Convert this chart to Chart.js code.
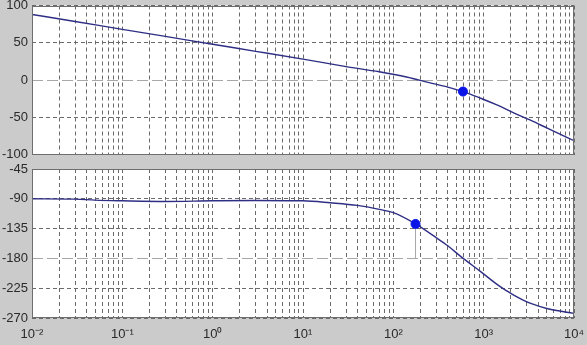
<!DOCTYPE html>
<html>
<head>
<meta charset="utf-8">
<script src="https://cdn.jsdelivr.net/npm/chart.js@4.4.0/dist/chart.umd.min.js"></script>
<style>
  html, body { margin: 0; padding: 0; background: #cbcbcb; }
  #wrap { position: relative; width: 587px; height: 345px; overflow: hidden; }
  #magChart { position: absolute; left: 0; top: 0; }
  #phaseChart { position: absolute; left: 0; top: 160px; }
</style>
</head>
<body>
<div id="wrap">
  <canvas id="magChart" width="587" height="160"></canvas>
  <canvas id="phaseChart" width="587" height="185"></canvas>
</div>
<script>
// magnitude curve (rad/s, dB)
const magFreq = [0.01, 0.03, 0.1, 0.3, 1, 3, 10, 30, 70, 140, 250, 400, 590, 926, 1400, 2150, 3300, 5125, 10000];
const magDb   = [88, 78.5, 68, 58.5, 48, 38.5, 28, 18, 11, 4, -3.5, -9.5, -15.5, -24.5, -33.5, -44, -54, -65, -81.5];

// phase curve (rad/s, deg)
const phaseFreq = [0.01, 0.03, 0.05, 0.1, 0.3, 1, 3, 10, 20, 40, 70, 100, 176, 300, 400, 556, 926, 1430, 1800, 2150, 2700, 3320, 5125, 10000];
const phaseDeg  = [-90, -90.5, -92, -93, -94, -93, -92.5, -93, -96, -100, -106, -111, -128, -149, -161, -177, -200, -220, -229, -235.5, -242.5, -248, -256, -263];

// markers
const magMarkerFreq = [590];
const magMarkerDb = [-15.5];
const phaseMarkerFreq = [176];
const phaseMarkerDeg = [-128];
const phaseMarginFloor = -180;

// axis ticks
const magTicks = [100, 50, 0, -50, -100];
const phaseTicks = [-45, -90, -135, -180, -225, -270];
const decades = [-2, -1, 0, 1, 2, 3, 4];

const sup = { '-': '\u207B', '0': '\u2070', '1': '\u00B9', '2': '\u00B2', '3': '\u00B3', '4': '\u2074' };
const tickFont = { family: "'Liberation Sans', Arial, sans-serif", size: 13 };

const framePlugin = {
  id: 'frame',
  beforeDraw(chart) {
    const { ctx, chartArea: a } = chart;
    ctx.save();
    ctx.fillStyle = '#ffffff';
    ctx.fillRect(a.left, a.top, a.right - a.left, a.bottom - a.top);
    ctx.restore();
  },
  afterDraw(chart) {
    const { ctx, chartArea: a } = chart;
    ctx.save();
    ctx.strokeStyle = '#6e6e6e';
    ctx.lineWidth = 1;
    ctx.strokeRect(Math.round(a.left) + 0.5, Math.round(a.top) + 0.5,
      Math.round(a.right - a.left) - 1, Math.round(a.bottom - a.top) - 1);
    ctx.restore();
  }
};

function pts(xs, ys) {
  return xs.map((x, i) => ({ x: x, y: ys[i] }));
}

function logTicks(scale) {
  const t = [];
  for (let d = 0; d < decades.length - 1; d++) {
    for (let k = 1; k < 10; k++) t.push({ value: k * Math.pow(10, decades[d]) });
  }
  t.push({ value: Math.pow(10, decades[decades.length - 1]) });
  scale.ticks = t;
}

function xLabel(v) {
  const e = Math.log10(v);
  if (Math.abs(e - Math.round(e)) > 1e-6) return '';
  return '10' + String(Math.round(e)).split('').map(c => sup[c]).join('');
}

function xScale(showLabels, height) {
  return {
    type: 'logarithmic',
    min: 0.01,
    max: 10000,
    afterBuildTicks: logTicks,
    afterFit(s) { s.height = height; s.paddingLeft = 0; s.paddingRight = 0; },
    grid: { color: '#6a6a6a', lineWidth: 1, drawTicks: false },
    border: { display: false, dash: [4, 3] },
    ticks: {
      display: showLabels,
      autoSkip: false,
      maxRotation: 0,
      padding: 9,
      color: '#2a2a2a',
      font: tickFont,
      callback: xLabel
    }
  };
}

function yScale(min, max, tickVals, refVal) {
  return {
    min: min,
    max: max,
    afterBuildTicks(s) { s.ticks = tickVals.map(v => ({ value: v })); },
    afterFit(s) { s.width = 32; s.paddingTop = 0; s.paddingBottom = 0; },
    grid: {
      drawTicks: false,
      lineWidth: 1,
      color: c => (c.tick && c.tick.value === refVal) ? '#a8a8a8' : '#6a6a6a'
    },
    border: {
      display: false,
      dash: c => (c.tick && c.tick.value === refVal) ? [11, 4] : [4, 3]
    },
    ticks: { padding: 4, color: '#2a2a2a', font: tickFont }
  };
}

const curveStyle = {
  borderColor: '#2e2e85',
  borderWidth: 1.4,
  pointRadius: 0,
  fill: false,
  cubicInterpolationMode: 'monotone'
};

const markerStyle = {
  showLine: false,
  pointRadius: 4.5,
  pointBackgroundColor: '#0a14e6',
  pointBorderColor: '#0a14e6'
};

new Chart(document.getElementById('magChart'), {
  type: 'line',
  data: {
    datasets: [
      Object.assign({ data: pts(magFreq, magDb), order: 2 }, curveStyle),
      Object.assign({ data: pts(magMarkerFreq, magMarkerDb), order: 1 }, markerStyle)
    ]
  },
  options: {
    responsive: false,
    animation: false,
    layout: { padding: { top: 5, right: 13, left: 0, bottom: 0 } },
    plugins: { legend: { display: false }, tooltip: { enabled: false } },
    scales: {
      x: xScale(false, 5),
      y: yScale(-100, 100, magTicks, 0)
    }
  },
  plugins: [framePlugin]
});

new Chart(document.getElementById('phaseChart'), {
  type: 'line',
  data: {
    datasets: [
      {
        data: pts([phaseMarkerFreq[0], phaseMarkerFreq[0]], [phaseMarkerDeg[0], phaseMarginFloor]),
        borderColor: '#a8a8a8', borderWidth: 1, pointRadius: 0, order: 3
      },
      Object.assign({ data: pts(phaseFreq, phaseDeg), order: 2 }, curveStyle),
      Object.assign({ data: pts(phaseMarkerFreq, phaseMarkerDeg), order: 1 }, markerStyle)
    ]
  },
  options: {
    responsive: false,
    animation: false,
    layout: { padding: { top: 9, right: 13, left: 0, bottom: 0 } },
    plugins: { legend: { display: false }, tooltip: { enabled: false } },
    scales: {
      x: xScale(true, 27),
      y: yScale(-270, -45, phaseTicks, -180)
    }
  },
  plugins: [framePlugin]
});
</script>
</body>
</html>
